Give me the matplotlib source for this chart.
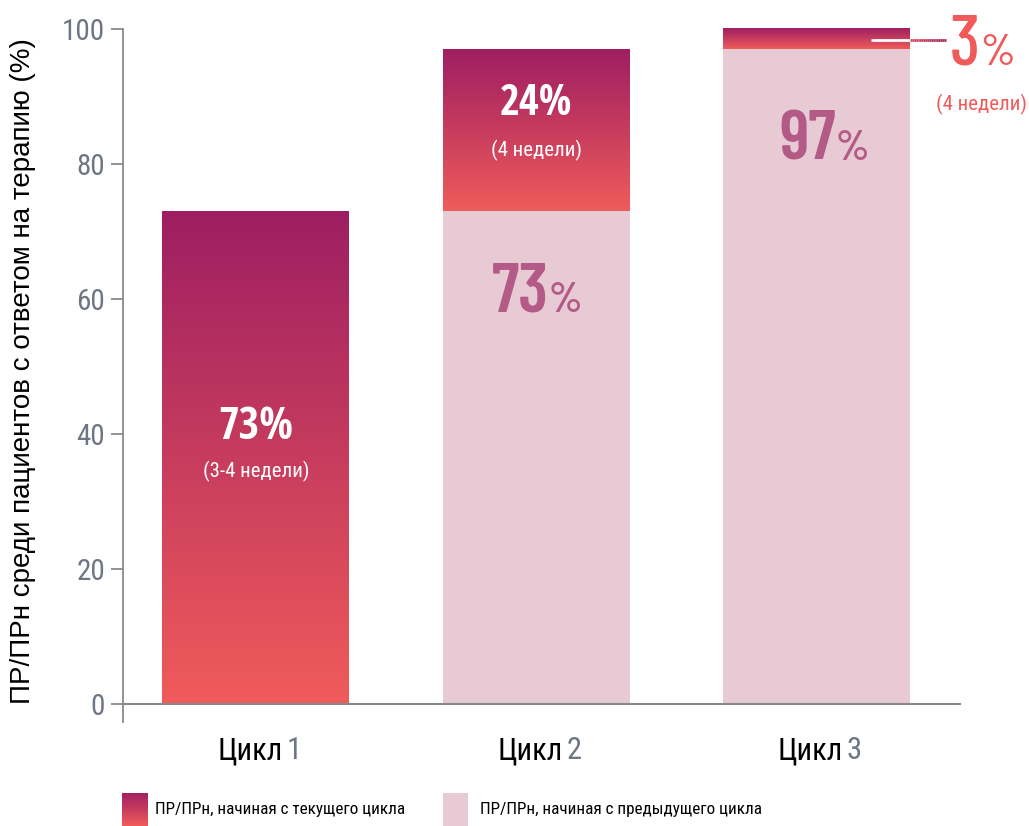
import numpy as np
import matplotlib
matplotlib.use('Agg')
from matplotlib import pyplot as plt
from matplotlib.colors import LinearSegmentedColormap
from matplotlib.transforms import offset_copy
from matplotlib.collections import LineCollection

cycles = ['1', '2', '3']
previous = [0, 73, 97]      # ПР/ПРн, начиная с предыдущего цикла
current = [73, 24, 3]       # ПР/ПРн, начиная с текущего цикла
weeks = ['(3-4 недели)', '(4 недели)', '(4 недели)']
yticks = [0, 20, 40, 60, 80, 100]

NARROW = ['Roboto Condensed', 'DejaVu Sans']
TALL = ['Barlow Condensed', 'Roboto Condensed', 'DejaVu Sans']
BOLD = ['Open Sans Condensed', 'Roboto Condensed', 'DejaVu Sans']
MAGENTA = '#9E1E62'
CORAL = '#F05B5A'
PINK = '#E7CAD4'
PINK_TEXT = '#B35A86'
TICK = '#6E7684'

grad = LinearSegmentedColormap.from_list('grad', [CORAL, MAGENTA])
ramp = np.linspace(0, 1, 256).reshape(-1, 1)

fig = plt.figure(figsize=(10.29, 8.26), dpi=100)
ax = fig.add_axes([0.1195, 0.1257, 0.8144, 0.8514])

x = np.arange(len(cycles))
width = 0.667

ax.bar(x, previous, width, color=PINK, zorder=2)
tops = ax.bar(x, current, width, bottom=previous, color='none', zorder=3)
for r in tops:
    x0, y0 = r.get_x(), r.get_y()
    ax.imshow(ramp, cmap=grad, origin='lower', aspect='auto', zorder=3,
              extent=[x0, x0 + r.get_width(), y0, y0 + r.get_height()])

ax.set_xlim(-0.4745, 2.516)
ax.set_ylim(-2.7, 101.5)

ax.axhline(0, color='#8A8A8A', lw=1.5, zorder=4)
for s in ['top', 'right', 'bottom']:
    ax.spines[s].set_visible(False)
ax.spines['left'].set_bounds(-2.7, 100)
ax.spines['left'].set_color('#8A8A8A')
ax.spines['left'].set_linewidth(1.3)
ax.set_yticks(yticks)
ax.set_yticklabels([str(t) for t in yticks], family=NARROW, fontsize=21, color=TICK)
ax.tick_params(axis='y', length=9, width=1.3, color='#8A8A8A', pad=4)
ax.set_xticks([])

ax.set_ylabel('ПР/ПРн среди пациентов с ответом на терапию (%)', family='Liberation Sans',
              fontsize=20, color='black')
ax.yaxis.set_label_coords(-0.104, 0.499)

# category labels: black word, grey number
word_tr = offset_copy(ax.transData, fig=fig, x=19, y=0, units='points')
num_tr = offset_copy(ax.transData, fig=fig, x=22, y=0, units='points')
for i, c in enumerate(cycles):
    ax.text(i, -4.8, 'Цикл', transform=word_tr, ha='right', va='top', family=NARROW,
            fontsize=22, color='black', clip_on=False)
    ax.text(i, -4.8, c, transform=num_tr, ha='left', va='top', family=NARROW,
            fontsize=22, color=TICK, clip_on=False)

# white labels on the gradient segments
ax.text(0, 41, f'{current[0]}%', ha='center', va='center', family=BOLD,
        fontsize=32, fontweight='bold', color='white', zorder=5)
ax.text(0, 34.4, weeks[0], ha='center', va='center', family=NARROW,
        fontsize=15, color='white', zorder=5)
ax.text(1, 89, f'{current[1]}%', ha='center', va='center', family=BOLD,
        fontsize=31, fontweight='bold', color='white', zorder=5)
ax.text(1, 82, weeks[1], ha='center', va='center', family=NARROW,
        fontsize=15, color='white', zorder=5)

# mauve labels on the pink segments
for i, xj, yb in [(1, 1.046, 58.1), (2, 2.07, 80.6)]:
    ax.text(xj, yb, str(previous[i]), ha='right', va='baseline',
            family=TALL, fontsize=50, fontweight='semibold', color=PINK_TEXT, zorder=5)
    ax.text(xj, yb, '%', ha='left', va='baseline',
            family=TALL, fontsize=31, fontweight='semibold', color=PINK_TEXT, zorder=5)

# callout for the thin top segment of cycle 3
ax.plot([2.195, 2.334], [98.4, 98.4], color='white', lw=2, zorder=5, solid_capstyle='butt')
xs = np.linspace(2.334, 2.462, 20)
segs = [[(xs[k], 98.4), (xs[k + 1], 98.4)] for k in range(len(xs) - 1)]
lc = LineCollection(segs, colors=grad(np.linspace(0.3, 0.9, len(segs))),
                    lw=2, zorder=5, clip_on=False)
ax.add_collection(lc)
ax.text(2.583, 94.7, f'{current[2]}', ha='right', va='baseline', family=TALL,
        fontsize=52, fontweight='medium', color=CORAL, clip_on=False)
ax.text(2.583, 94.7, '%', ha='left', va='baseline', family=TALL,
        fontsize=32, fontweight='medium', color=CORAL, clip_on=False)
ax.text(2.59, 88.9, weeks[2], ha='center', va='center', family=NARROW,
        fontsize=15, color=CORAL, clip_on=False)

# legend swatches
sw1 = fig.add_axes([0.1186, 0.0, 0.0243, 0.04])
sw1.imshow(ramp, cmap=grad, origin='lower', aspect='auto')
sw1.axis('off')
sw2 = fig.add_axes([0.4305, 0.0, 0.0243, 0.04])
sw2.set_facecolor(PINK)
sw2.set_xticks([])
sw2.set_yticks([])
for s in sw2.spines.values():
    s.set_visible(False)
fig.text(0.1506, 0.0194, 'ПР/ПРн, начиная с текущего цикла', ha='left', va='center',
         family=NARROW, fontsize=12.3, color='black')
fig.text(0.4665, 0.0194, 'ПР/ПРн, начиная с предыдущего цикла', ha='left', va='center',
         family=NARROW, fontsize=12.3, color='black')

fig.savefig('out.png', dpi=100)
